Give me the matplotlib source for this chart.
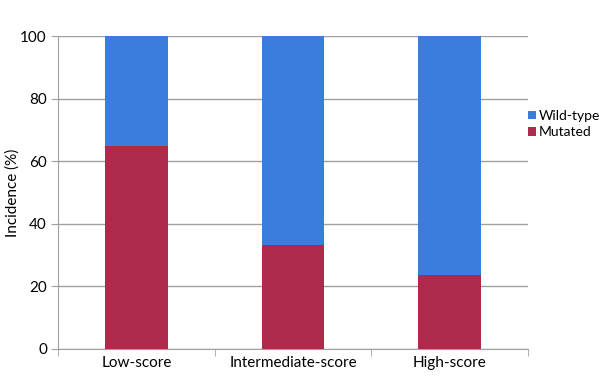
import numpy as np
import matplotlib.pyplot as plt

plt.rcParams['font.family'] = ['Lato', 'DejaVu Sans']

# data
categories = ["Low-score", "Intermediate-score", "High-score"]
mutated = [65, 33.3, 23.5]
wild_type = [100 - m for m in mutated]

blue = "#3a7ddd"
red = "#ae2a4b"
grid_col = "#a0a0a0"

fig = plt.figure(figsize=(6.02, 3.81), dpi=100)
ax = fig.add_axes([58/602, 1 - 349/381, 470/602, 313/381])

x = np.arange(len(categories))
ax.bar(x, mutated, width=0.4, color=red, label="Mutated", zorder=3)
ax.bar(x, wild_type, width=0.4, bottom=mutated, color=blue, label="Wild-type", zorder=3)

ax.set_xlim(-0.5, len(categories) - 0.5)
ax.set_ylim(0, 100)
ax.set_yticks(np.arange(0, 101, 20))
ax.yaxis.grid(True, color=grid_col, linewidth=1, zorder=0)

ax.set_xticks(x)
ax.set_xticklabels(categories, fontsize=11)
ax.tick_params(axis='x', length=0, pad=5)
ax.set_xticks(np.arange(-0.5, len(categories)), minor=True)
ax.tick_params(axis='x', which='minor', length=5, color=grid_col)
ax.tick_params(axis='y', length=5, color=grid_col, labelsize=11, pad=3)

for s in ['top', 'right']:
    ax.spines[s].set_visible(False)
for s in ['left', 'bottom']:
    ax.spines[s].set_color(grid_col)

ax.set_ylabel("Incidence (%)", fontsize=11)
ax.yaxis.set_label_coords(-0.082, 0.5)

handles, labels = ax.get_legend_handles_labels()
leg = ax.legend(handles[::-1], labels[::-1], loc='center left', frameon=False,
                fontsize=10, handlelength=0.6, handleheight=0.6, handletextpad=0.2,
                labelspacing=0.3, borderaxespad=0, borderpad=0)
leg.set_bbox_to_anchor((528/602, 1 - 124/381), transform=fig.transFigure)

fig.savefig("out.png", dpi=100)
